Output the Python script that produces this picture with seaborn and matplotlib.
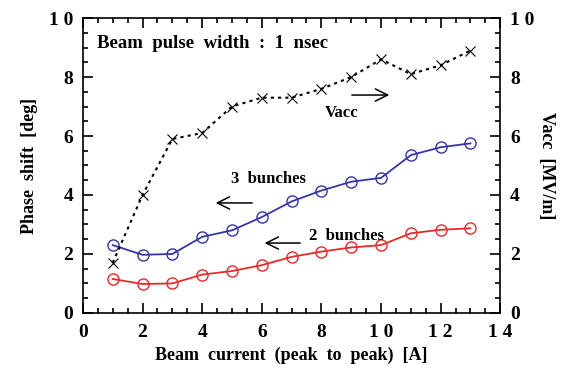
import matplotlib
matplotlib.use("Agg")
import matplotlib.pyplot as plt
import seaborn as sns
import pandas as pd
from matplotlib.ticker import MultipleLocator

current = [1, 2, 3, 4, 5, 6, 7, 8, 9, 10, 11, 12, 13]
vacc = [1.7, 4.0, 5.9, 6.1, 7.0, 7.3, 7.3, 7.6, 8.0, 8.6, 8.1, 8.4, 8.9]
three_bunches = [2.3, 1.97, 2.0, 2.58, 2.8, 3.25, 3.78, 4.15, 4.45, 4.58, 5.35, 5.62, 5.75]
two_bunches = [1.15, 0.98, 1.0, 1.3, 1.42, 1.62, 1.9, 2.08, 2.22, 2.3, 2.7, 2.82, 2.87]
x_ticks = [0, 2, 4, 6, 8, 10, 12, 14]
x_ticklabels = ["0", "2", "4", "6", "8", "1 0", "1 2", "1 4"]
y_ticks = [0, 2, 4, 6, 8, 10]
y_ticklabels = ["0", "2", "4", "6", "8", "1 0"]

plt.rcParams["font.family"] = ["Liberation Serif", "DejaVu Serif"]

df = pd.DataFrame({"I": current, "v": vacc, "b3": three_bunches, "b2": two_bunches})

fig = plt.figure(figsize=(5.64, 3.69), dpi=100)
ax = fig.add_axes([0.147, 0.152, 0.740, 0.799])

sns.lineplot(data=df, x="I", y="b3", ax=ax, color="#3535a5", marker="o", markersize=8,
             markerfacecolor="none", markeredgecolor="#3535a5", markeredgewidth=1.0, linewidth=1.3)
sns.lineplot(data=df, x="I", y="b2", ax=ax, color="#e62a2a", marker="o", markersize=8,
             markerfacecolor="none", markeredgecolor="#e62a2a", markeredgewidth=1.0, linewidth=1.3)
# Vacc uses the right axis, whose scale (0-10) is identical to the left one
sns.lineplot(data=df, x="I", y="v", ax=ax, color="black", marker="x", markersize=7,
             markeredgecolor="black", markeredgewidth=0.8, linewidth=1.5,
             linestyle=(0, (1.5, 2.0)))

ax.set_xlim(0, 14)
ax.set_ylim(0, 10)
for s in ax.spines.values():
    s.set_linewidth(1.2)
    s.set_color("black")

ax.set_xticks(x_ticks)
ax.set_xticklabels(x_ticklabels, fontsize=14, fontweight="bold")
ax.set_yticks(y_ticks)
ax.set_yticklabels(y_ticklabels, fontsize=14, fontweight="bold")
ax.xaxis.set_minor_locator(MultipleLocator(0.5))
ax.yaxis.set_minor_locator(MultipleLocator(0.5))

ax.set_xlabel("Beam  current  (peak  to  peak)  [A]", fontsize=13, fontweight="bold", labelpad=4)
ax.set_ylabel("Phase  shift  [deg]", fontsize=13, fontweight="bold", labelpad=8)
ax.text(1.11, 0.5, "Vacc  [MV/m]", transform=ax.transAxes, fontsize=13, fontweight="bold",
        rotation=270, ha="center", va="center")

ax.text(0.47, 9.15, "Beam  pulse  width  :  1  nsec", fontsize=13.5, fontweight="bold", va="center", ha="left")
ax.text(6.24, 4.54, "3  bunches", fontsize=12, fontweight="bold", ha="center", va="center")
ax.text(8.83, 2.61, "2  bunches", fontsize=12, fontweight="bold", ha="center", va="center")
ax.text(8.69, 6.78, "Vacc", fontsize=12, fontweight="bold", ha="center", va="center")

ap = dict(arrowstyle="->", color="black", lw=1.1, mutation_scale=22)
ax.annotate("", xy=(4.36, 3.73), xytext=(5.77, 3.73), arrowprops=ap)
ax.annotate("", xy=(6.0, 2.37), xytext=(7.38, 2.37), arrowprops=ap)
ax.annotate("", xy=(10.37, 7.39), xytext=(8.93, 7.39), arrowprops=ap)

ax.tick_params(axis="x", which="major", direction="in", bottom=True, top=True,
               color="black", width=1.2, length=7, pad=8)
ax.tick_params(axis="x", which="minor", direction="in", bottom=True, top=True,
               color="black", width=1.2, length=3.5)
ax.tick_params(axis="y", which="major", direction="in", left=True, right=True,
               labelleft=True, labelright=True, color="black", width=1.2, length=7, pad=7)
ax.tick_params(axis="y", which="minor", direction="in", left=True, right=True,
               color="black", width=1.2, length=3.5)

fig.savefig("out.png", dpi=100)
